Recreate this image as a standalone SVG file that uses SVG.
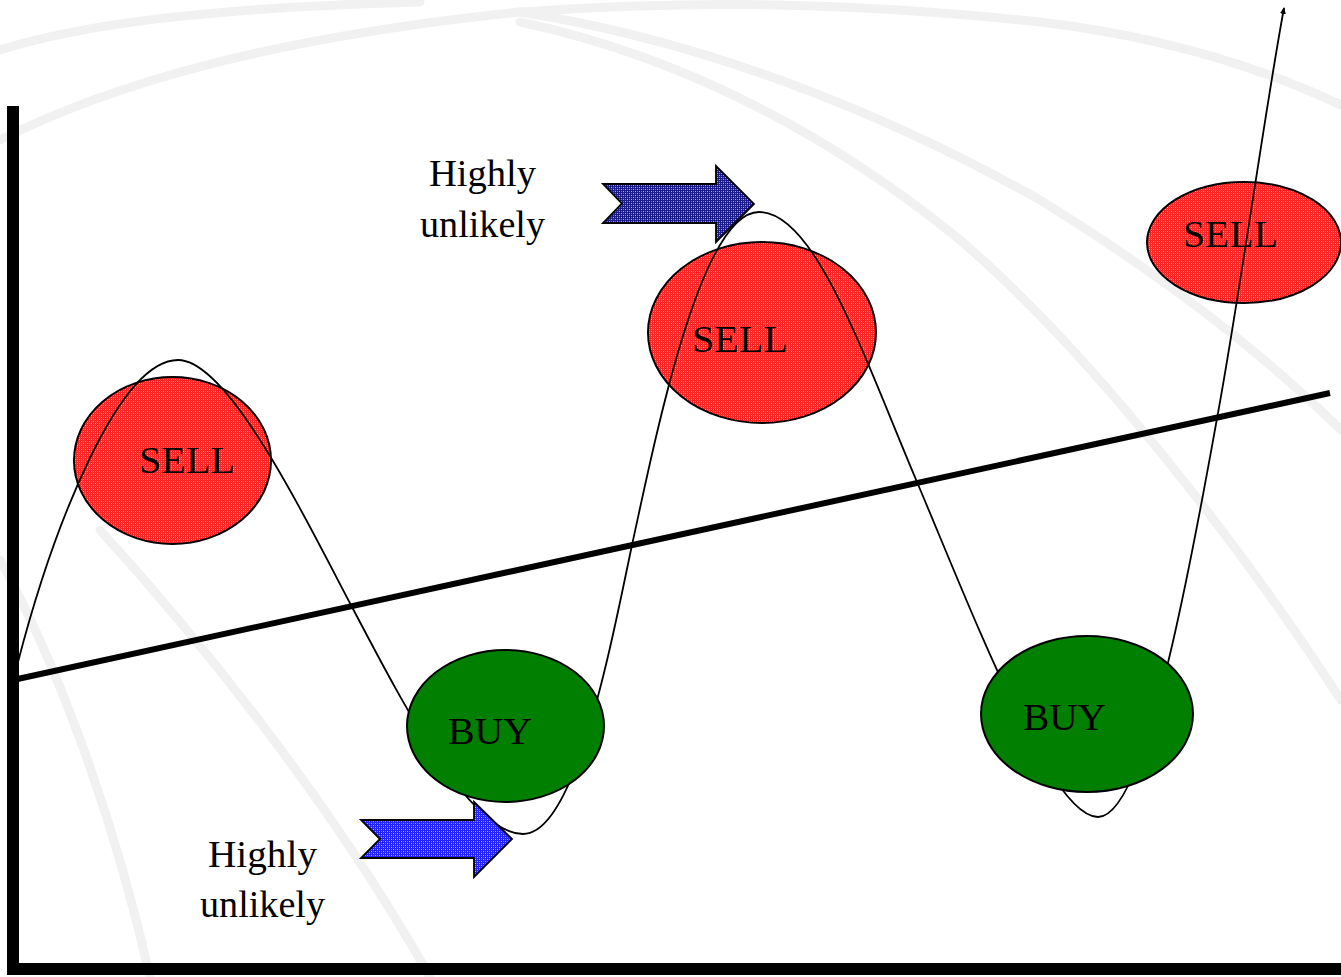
<svg xmlns="http://www.w3.org/2000/svg" width="1341" height="977" viewBox="0 0 1341 977">
<style>
.bg{fill:none;stroke:#f1f1f1;stroke-width:9;stroke-linecap:round}
.lbl{font-family:"Liberation Serif","Times New Roman",serif;font-size:38px;fill:#000}
.ell{stroke:#000;stroke-width:2}
.arr{stroke:#000;stroke-width:1.8;stroke-linejoin:miter}
</style>
<defs>
<pattern id="pr" width="4" height="4" patternUnits="userSpaceOnUse">
<rect width="4" height="4" fill="#ff2525"/>
<rect x="1" y="1" width="1" height="1" fill="#ffb4b4"/>
<rect x="3" y="3" width="1" height="1" fill="#ffb4b4"/>
<rect x="3" y="1" width="1" height="1" fill="#ff8080"/>
<rect x="1" y="3" width="1" height="1" fill="#ff8080"/>
</pattern>
<pattern id="pn" width="4" height="4" patternUnits="userSpaceOnUse">
<rect width="4" height="4" fill="#1c1c8c"/>
<rect x="1" y="1" width="1" height="1" fill="#b0b0dc"/>
<rect x="3" y="3" width="1" height="1" fill="#b0b0dc"/>
<rect x="3" y="1" width="1" height="1" fill="#7070bb"/>
<rect x="1" y="3" width="1" height="1" fill="#7070bb"/>
</pattern>
<pattern id="pb" width="4" height="4" patternUnits="userSpaceOnUse">
<rect width="4" height="4" fill="#2222ff"/>
<rect x="1" y="1" width="1" height="1" fill="#b8b8ff"/>
<rect x="3" y="3" width="1" height="1" fill="#b8b8ff"/>
<rect x="3" y="1" width="1" height="1" fill="#8080ff"/>
<rect x="1" y="3" width="1" height="1" fill="#8080ff"/>
</pattern>
<marker id="tip" markerWidth="8" markerHeight="8" refX="6" refY="4" orient="auto" markerUnits="userSpaceOnUse">
<path d="M0,1 L7,4 L0,7 Z" fill="#000"/>
</marker>
</defs>
<rect width="1341" height="977" fill="#fff"/>
<g id="background">
<path class="bg" d="M0,50 C80,25 200,8 420,2"/>
<path class="bg" d="M0,140 C100,90 250,40 520,12 C700,0 850,2 1040,22 C1150,35 1250,62 1341,105"/>
<path class="bg" d="M520,12 C700,40 880,110 1040,200 C1170,280 1270,360 1341,430"/>
<path class="bg" d="M520,22 C700,60 850,150 960,240 C1100,360 1250,560 1341,700"/>
<path class="bg" d="M100,530 C200,640 330,800 430,977"/>
<path class="bg" d="M0,560 C50,650 110,800 150,977"/>
</g>
<g id="axes">
<line x1="13" y1="106" x2="13" y2="975" stroke="#000" stroke-width="12"/>
<line x1="7" y1="969" x2="1341" y2="969" stroke="#000" stroke-width="12"/>
</g>
<g id="trend">
<line x1="13" y1="680" x2="1330" y2="393" stroke="#000" stroke-width="6"/>
</g>
<g id="sell1"><ellipse class="ell" cx="172.5" cy="460.5" rx="98.5" ry="83.5" fill="url(#pr)"/></g>
<g id="sell2"><ellipse class="ell" cx="762" cy="332.5" rx="114" ry="90.5" fill="url(#pr)"/></g>
<g id="sell3"><ellipse class="ell" cx="1244" cy="242.5" rx="97" ry="60.5" fill="url(#pr)"/></g>
<g id="connectors">
<path d="M18,662 C55,520 120,360 178,360 C228,360 302,512 352,607 C402,702 470,834 523,834 C575,834 610,650 632,545 C655,440 700,212 759,212 C815,212 862,352 917,482 C972,612 1050,817 1098,817 C1148,817 1195,539 1218,413 C1241,287 1265,110 1284,8" fill="none" stroke="#000" stroke-width="1.8" marker-end="url(#tip)"/>
</g>
<g id="buy1"><ellipse class="ell" cx="505.5" cy="726" rx="98.5" ry="76" fill="#007f00"/></g>
<g id="buy2"><ellipse class="ell" cx="1087" cy="714" rx="106" ry="78" fill="#007f00"/></g>
<g id="arrowTop"><polygon class="arr" points="603,184 716,184 716,166 754,204 716,242 716,223 603,223 622,203.5" fill="url(#pn)"/></g>
<g id="arrowBottom"><polygon class="arr" points="361,820 474,820 474,802 512,839 474,877 474,858 361,858 380,839" fill="url(#pb)"/></g>
<g id="labels">
<text class="lbl" x="139" y="473" textLength="96" lengthAdjust="spacingAndGlyphs">SELL</text>
<text class="lbl" x="692" y="352" textLength="96" lengthAdjust="spacingAndGlyphs">SELL</text>
<text class="lbl" x="1183" y="247" textLength="95" lengthAdjust="spacingAndGlyphs">SELL</text>
<text class="lbl" x="448" y="744" textLength="84" lengthAdjust="spacingAndGlyphs">BUY</text>
<text class="lbl" x="1023" y="730" textLength="83" lengthAdjust="spacingAndGlyphs">BUY</text>
<text class="lbl" x="429" y="186" textLength="107" lengthAdjust="spacingAndGlyphs">Highly</text>
<text class="lbl" x="420" y="237" textLength="125" lengthAdjust="spacingAndGlyphs">unlikely</text>
<text class="lbl" x="208" y="867" textLength="109" lengthAdjust="spacingAndGlyphs">Highly</text>
<text class="lbl" x="200" y="917" textLength="125" lengthAdjust="spacingAndGlyphs">unlikely</text>
</g>
</svg>
